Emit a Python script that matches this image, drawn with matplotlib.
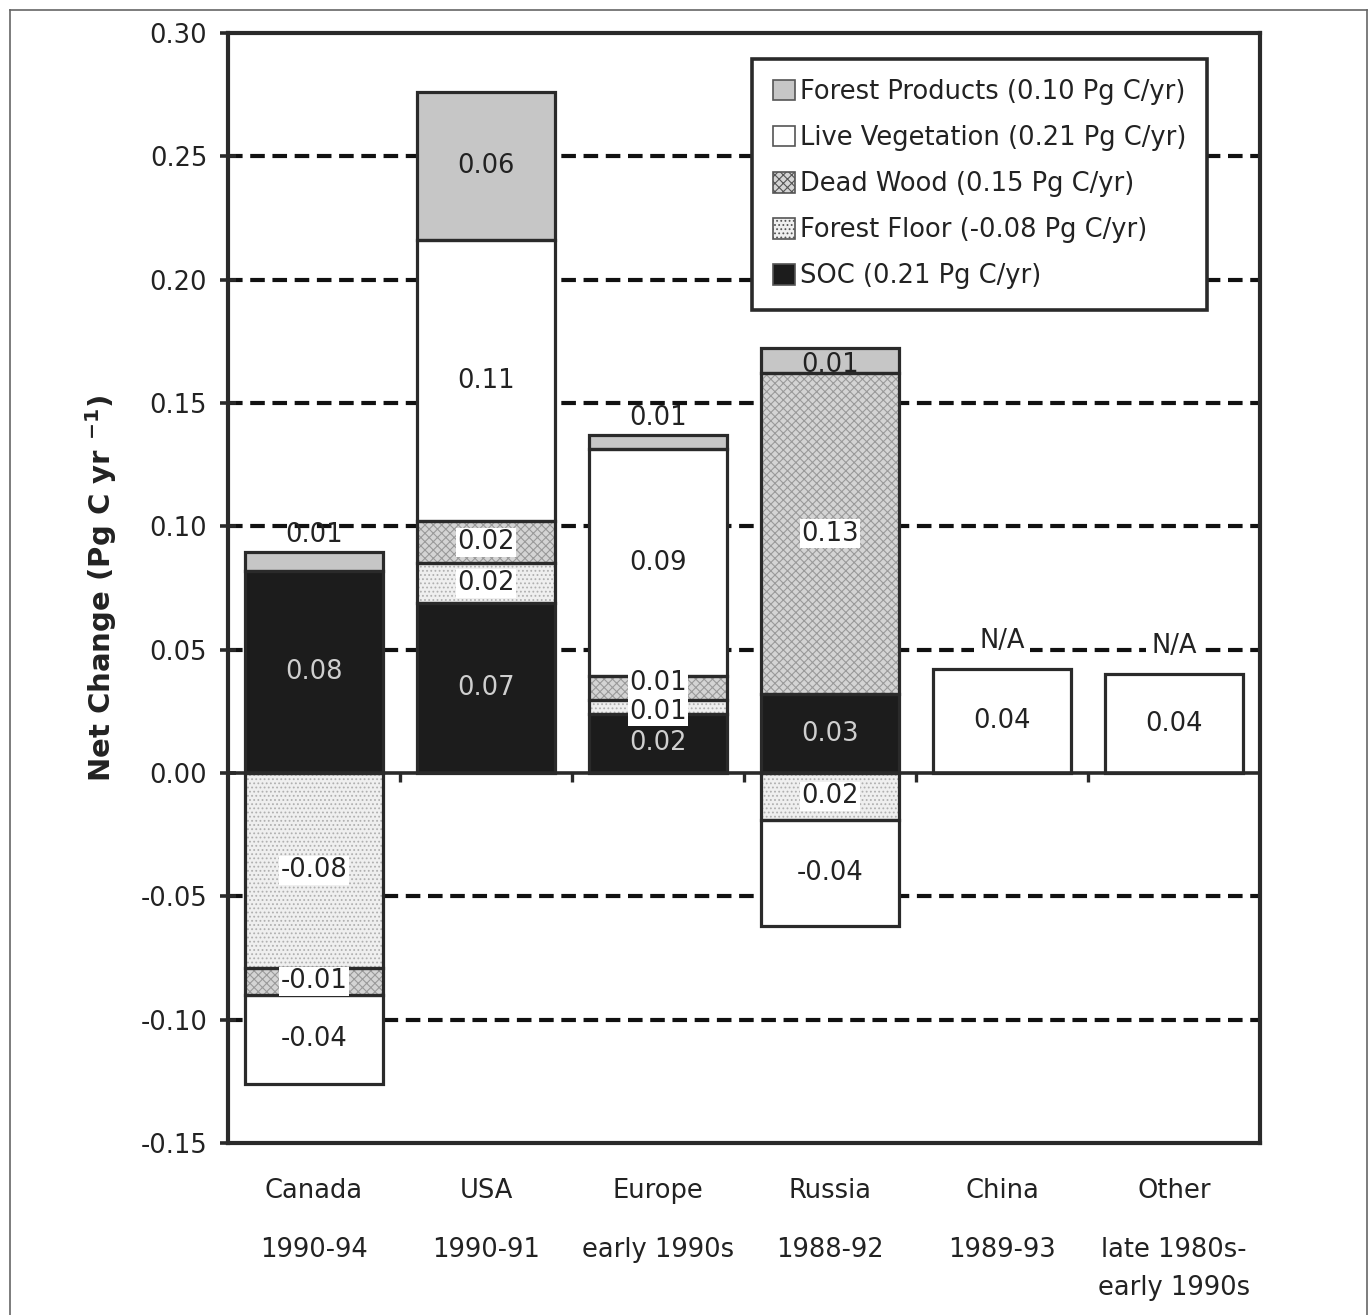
import matplotlib
matplotlib.use("Agg")
import matplotlib.pyplot as plt
import numpy as np
from matplotlib.patches import Patch
from matplotlib.lines import Line2D
import matplotlib.transforms as mtransforms

plt.rcParams['font.family'] = ['DejaVu Sans']
plt.rcParams['mathtext.fontset'] = 'dejavusans'
plt.rcParams['hatch.linewidth'] = 0.8
plt.rcParams['lines.scale_dashes'] = False

# ---------------- data ----------------
categories = ['Canada', 'USA', 'Europe', 'Russia', 'China', 'Other']
periods = ['1990-94', '1990-91', 'early 1990s', '1988-92', '1989-93', 'late 1980s-\nearly 1990s']

soc             = [0.082, 0.069, 0.024, 0.032, 0.0, 0.0]
forest_floor    = [-0.079, 0.016, 0.0055, -0.019, 0.0, 0.0]
dead_wood       = [-0.011, 0.017, 0.0097, 0.130, 0.0, 0.0]
live_vegetation = [-0.036, 0.114, 0.092, -0.043, 0.042, 0.040]
forest_products = [0.0075, 0.060, 0.006, 0.0105, 0.0, 0.0]

soc_labels = ['0.08', '0.07', '0.02', '0.03', '', '']
ff_labels  = ['-0.08', '0.02', '0.01', '0.02', '', '']
dw_labels  = ['-0.01', '0.02', '0.01', '0.13', '', '']
lv_labels  = ['-0.04', '0.11', '0.09', '-0.04', '0.04', '0.04']
fp_labels  = ['0.01', '0.06', '0.01', '0.01', '', '']
na_labels  = ['', '', '', '', 'N/A', 'N/A']

legend_labels = ['Forest Products (0.10 Pg C/yr)', 'Live Vegetation (0.21 Pg C/yr)',
                 'Dead Wood (0.15 Pg C/yr)', 'Forest Floor (-0.08 Pg C/yr)',
                 'SOC (0.21 Pg C/yr)']

yticks = [-0.15, -0.10, -0.05, 0.00, 0.05, 0.10, 0.15, 0.20, 0.25, 0.30]

# ---------------- styles ----------------
styles = {
    'SOC': dict(fc='#1c1c1c', hatch=None, hc='#1c1c1c', tc='#cfcfcf', box=False),
    'FF':  dict(fc='#efefef', hatch='....', hc='#b0b0b0', tc='#222222', box=True),
    'DW':  dict(fc='#d4d4d4', hatch='xxxx', hc='#9a9a9a', tc='#222222', box=True),
    'LV':  dict(fc='#ffffff', hatch=None, hc='#ffffff', tc='#222222', box=False),
    'FP':  dict(fc='#c6c6c6', hatch=None, hc='#c6c6c6', tc='#222222', box=False),
}
series = [('SOC', soc, soc_labels), ('FF', forest_floor, ff_labels),
          ('DW', dead_wood, dw_labels), ('LV', live_vegetation, lv_labels),
          ('FP', forest_products, fp_labels)]

EDGE = '#2a2a2a'
TXT = '#222222'
BW = 0.8
FS = 18.5

fig = plt.figure(figsize=(13.7, 13.15), dpi=100)
ax = fig.add_axes([0.1664, 0.1308, 0.7533, 0.8441])

x = np.arange(len(categories))
ax.set_xlim(-0.5, len(categories) - 0.5)
ax.set_ylim(-0.15, 0.30)

# grid
for yv in yticks:
    if yv in (-0.15, 0.0, 0.30):
        continue
    ax.axhline(yv, color='#111111', lw=3.0, ls=(0, (10.5, 5.5)), zorder=0)

pos_base = np.zeros(len(categories))
neg_base = np.zeros(len(categories))
for key, vals, labs in series:
    st = styles[key]
    vals = np.asarray(vals, dtype=float)
    for i, v in enumerate(vals):
        if v == 0:
            continue
        if v > 0:
            b = pos_base[i]
            pos_base[i] += v
        else:
            b = neg_base[i]
            neg_base[i] += v
        ax.bar(x[i], v, bottom=b, width=BW, color=st['fc'], hatch=st['hatch'],
               edgecolor=st['hc'], linewidth=0, zorder=2)
        ax.bar(x[i], v, bottom=b, width=BW, fill=False, edgecolor=EDGE,
               linewidth=2.3, zorder=3)
        lab = labs[i]
        if not lab:
            continue
        if key == 'FP' and abs(v) < 0.009:
            ax.text(x[i], b + v + 0.0068, lab, ha='center', va='center',
                    fontsize=FS, color=TXT, zorder=5)
            continue
        yl = b + v / 2.0
        # nudge crowded small positive segments apart
        if 0 < v < 0.012:
            yl += 0.0022 if key == 'DW' else -0.002
        bbox = dict(boxstyle='square,pad=0.06', fc='white', ec='none') if st['box'] else None
        ax.text(x[i], yl, lab, ha='center', va='center', fontsize=FS,
                color=st['tc'], zorder=5, bbox=bbox)

# N/A labels
for i, lab in enumerate(na_labels):
    if lab:
        ax.text(x[i], pos_base[i] + 0.0115, lab, ha='center', va='center',
                fontsize=FS, color=TXT, zorder=5,
                bbox=dict(boxstyle='square,pad=0.2', fc='white', ec='none'))

# zero line and category boundary ticks
ax.axhline(0, color=EDGE, lw=2.6, zorder=4)
bounds = np.arange(0.5, len(categories) - 0.5, 1.0)
ax.vlines(bounds, -0.0035, 0, color=EDGE, lw=2.4, zorder=4)

# axes styling
for s in ax.spines.values():
    s.set_linewidth(3.0)
    s.set_color(EDGE)
    s.set_zorder(6)
ax.set_yticks(yticks)
ax.set_yticklabels([f'{t:.2f}' for t in yticks], fontsize=FS, color=TXT)
ax.tick_params(axis='y', direction='inout', length=12, width=2.6, pad=9, color=EDGE)
ax.set_xticks(x)
ax.set_xticklabels(categories, fontsize=FS, color=TXT)
ax.tick_params(axis='x', length=0, pad=25)

trans = mtransforms.blended_transform_factory(ax.transData, ax.transAxes)
for i, p in enumerate(periods):
    ax.annotate(p, xy=(x[i], 0), xycoords=trans, xytext=(0, -68),
                textcoords='offset points', ha='center', va='top',
                fontsize=FS, color=TXT, linespacing=1.6,
                annotation_clip=False)

ax.set_ylabel(r'Net Change (Pg C yr $^{\mathbf{-1}}$)', fontsize=21,
              fontweight='bold', color=TXT)
ax.yaxis.set_label_coords(-0.106, 0.5)

# legend
order = ['FP', 'LV', 'DW', 'FF', 'SOC']
handles = [Patch(facecolor=styles[k]['fc'], hatch=styles[k]['hatch'],
                 edgecolor='#555555', linewidth=1.2) for k in order]
leg = ax.legend(handles, legend_labels, loc='upper left',
                bbox_to_anchor=(0.508, 0.977), fontsize=FS, frameon=True,
                fancybox=False, framealpha=1, edgecolor=EDGE,
                handlelength=0.85, handleheight=0.85, handletextpad=0.2,
                labelspacing=0.78, borderpad=0.8, borderaxespad=0)
leg.get_frame().set_linewidth(2.6)
leg.set_zorder(10)
for t in leg.get_texts():
    t.set_color(TXT)

# outer frame
for xs, ys in [([0.0073, 0.0073], [0.0, 0.9924]),
               ([0.0073, 0.998], [0.9924, 0.9924]),
               ([0.998, 0.998], [0.0, 0.9924])]:
    fig.add_artist(Line2D(xs, ys, transform=fig.transFigure, color='#666666', lw=1.2))

fig.savefig('out.png', dpi=100, facecolor='white')
